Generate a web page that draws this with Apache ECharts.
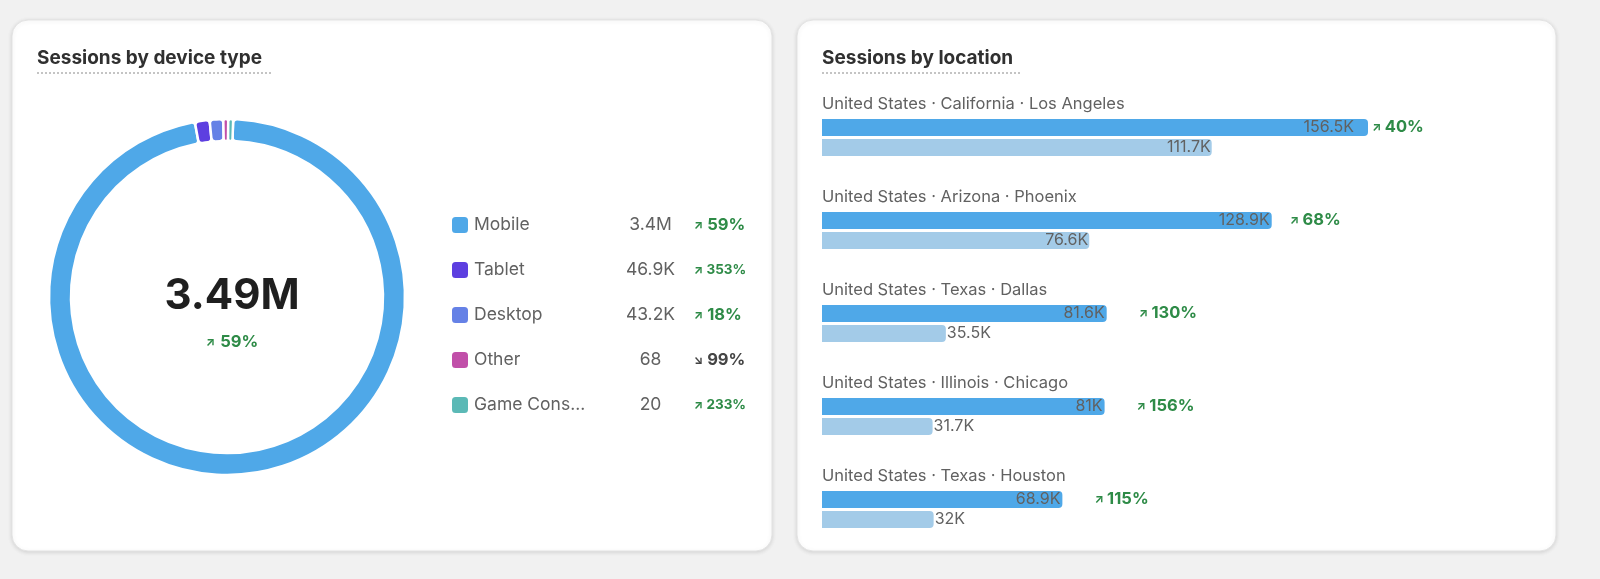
<!DOCTYPE html>
<html><head><meta charset="utf-8">
<script src="https://cdn.jsdelivr.net/npm/echarts@6/dist/echarts.min.js"></script>
<style>html,body{margin:0;background:#f1f1f1;overflow:hidden}#main{width:1600px;height:579px}</style>
</head><body><div id="main"></div>
<script>
// device donut
var devNames = ['Mobile','Tablet','Desktop','Other','Game Console'];
var devValues = [3400000, 46900, 43200, 68, 20];
var devLabels = ['3.4M','46.9K','43.2K','68','20'];
var devPct = ['59%','353%','18%','99%','233%'];
var devUp = [true,true,true,false,true];
var devColors = ['#4fa8e8','#5d3fe0','#6581e6','#c14fa9','#5bb9b6'];
// locations
var locNames = ['United States · California · Los Angeles','United States · Arizona · Phoenix','United States · Texas · Dallas','United States · Illinois · Chicago','United States · Texas · Houston'];
var curVals = [156.5, 128.9, 81.6, 81, 68.9];
var prevVals = [111.7, 76.6, 35.5, 31.7, 32];
var curText = ['156.5K','128.9K','81.6K','81K','68.9K'];
var prevText = ['111.7K','76.6K','35.5K','31.7K','32K'];
var locPct = ['40%','68%','130%','156%','115%'];

var chart = echarts.init(document.getElementById('main'));
var font = 'Inter';
var green = '#2e8b47';

var grids = [], xAxes = [], yAxes = [], series = [], titles = [];
locNames.forEach(function(n, i){
    var top = 117.5 + i*93;
    grids.push({left:822, width:546, top:top, height:40});
    xAxes.push({gridIndex:i, type:'value', min:0, max:156.5, show:false});
    yAxes.push({gridIndex:i, type:'category', data:['cur','prev'], inverse:true, show:false});
    titles.push({text:n, left:822, top:top-22, padding:0, textStyle:{fontFamily:font, fontSize:16.5, fontWeight:'normal', color:'#616161'}});
    series.push({
        type:'bar', xAxisIndex:i, yAxisIndex:i, barWidth:17, stack:'s'+i, silent:true,
        itemStyle:{borderRadius:[0,4,4,0]},
        data:[
            {value:curVals[i], itemStyle:{color:'#4fa8e8'}, label:{formatter:curText[i]}},
            {value:prevVals[i], itemStyle:{color:'#a3cbe8'}, label:{formatter:prevText[i], position: prevVals[i] < 40 ? 'right' : 'insideRight', distance:1}}
        ],
        label:{show:true, position:'insideRight', distance: curVals[i] > 150 ? 14 : 2, color:'#616161', fontFamily:font, fontSize:16}
    });
    series.push({
        type:'bar', xAxisIndex:i, yAxisIndex:i, barWidth:17, stack:'s'+i, silent:true,
        data:[0, '-'], itemStyle:{color:'transparent'},
        label:{show:true, position:'right', distance: curVals[i] > 150 ? 4 : (curVals[i] > 100 ? 18 : 32), formatter:'{a|↗} {p|'+locPct[i]+'}',
            rich:{a:{color:green, fontSize:12, fontWeight:'bold', fontFamily:font}, p:{color:green, fontSize:16.5, fontWeight:'bold', fontFamily:font}}}
    });
});

titles.push({text:'Sessions by device type', left:37, top:49, padding:0, textStyle:{fontFamily:font, fontSize:19, fontWeight:'bold', color:'#303030'}});
titles.push({text:'Sessions by location', left:822, top:49, padding:0, textStyle:{fontFamily:font, fontSize:19, fontWeight:'bold', color:'#303030'}});
titles.push({text:'3.49M', left:227, top:270, textAlign:'center', textStyle:{fontFamily:font, fontSize:42, fontWeight:'bold', color:'#1f1f1f'}});
titles.push({text:'{a|↗} {p|59%}', left:227, top:328, textAlign:'center', textStyle:{rich:{a:{color:green, fontSize:12, fontWeight:'bold', fontFamily:font}, p:{color:green, fontSize:16.5, fontWeight:'bold', fontFamily:font}}}});

series.push({
    type:'pie', center:[227,297], radius:[156,178], startAngle:88, minAngle:1.6,
    silent:true, label:{show:false}, itemStyle:{borderRadius:4, borderColor:'#fff', borderWidth:2.5},
    data: devNames.map(function(n,i){ return {name:n, value:devValues[i], itemStyle:{color:devColors[i]}}; })
});

chart.setOption({
    backgroundColor:'#f1f1f1',
    animation:false,
    title:titles,
    graphic:[
        {type:'rect', shape:{x:12,y:20,width:760,height:531,r:16}, style:{fill:'#fff', stroke:'#e3e3e3', shadowBlur:4, shadowColor:'rgba(0,0,0,0.12)', shadowOffsetY:1}, z:-10},
        {type:'rect', shape:{x:797,y:20,width:759,height:531,r:16}, style:{fill:'#fff', stroke:'#e3e3e3', shadowBlur:4, shadowColor:'rgba(0,0,0,0.12)', shadowOffsetY:1}, z:-10},
        {type:'line', shape:{x1:37,y1:73,x2:272,y2:73}, style:{stroke:'#c4c4c4', lineWidth:2, lineDash:[2,2]}},
        {type:'line', shape:{x1:822,y1:73,x2:1021,y2:73}, style:{stroke:'#c4c4c4', lineWidth:2, lineDash:[2,2]}}
    ],
    legend:{
        orient:'vertical', left:450, top:215, itemGap:25, itemWidth:18, itemHeight:18, icon:'roundRect', padding:0,
        selectedMode:false, data:devNames,
        formatter:function(name){
            var i = devNames.indexOf(name);
            var shown = name.length > 9 ? name.slice(0,9) + '...' : name;
            var big = devPct[i].length < 4;
            var pStyle = devUp[i] ? (big ? 'p' : 'ps') : 'pd';
            return '{n|'+shown+'}{v|'+devLabels[i]+'}{'+(devUp[i]?'a':'ad')+'| '+(devUp[i]?'↗':'↘')+'}{'+pStyle+'| '+devPct[i]+'}';
        },
        textStyle:{fontFamily:font, rich:{
            n:{width:140, fontSize:17.5, color:'#616161', fontFamily:font},
            v:{width:73, align:'right', fontSize:17.5, color:'#616161', fontFamily:font},
            a:{fontSize:12, color:green, fontWeight:'bold', padding:[0,0,0,4]},
            ad:{fontSize:12, color:'#444', fontWeight:'bold', padding:[0,0,0,4]},
            p:{fontSize:16.5, color:green, fontWeight:'bold', fontFamily:font},
            ps:{fontSize:13.5, color:green, fontWeight:'bold', fontFamily:font},
            pd:{fontSize:16.5, color:'#444', fontWeight:'bold', fontFamily:font}
        }}
    },
    grid:grids, xAxis:xAxes, yAxis:yAxes, series:series
});
</script></body></html>
